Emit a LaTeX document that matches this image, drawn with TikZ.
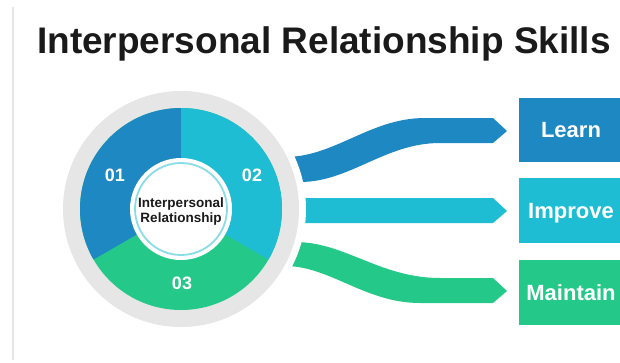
\documentclass[tikz,border=0pt]{standalone}
\usepackage{fontspec}
\setmainfont{Liberation Sans}
\definecolor{cblue}{HTML}{1E88C2}
\definecolor{cteal}{HTML}{1FBDD3}
\definecolor{cgreen}{HTML}{24C98A}
\definecolor{cgray}{HTML}{E6E6E6}
\definecolor{cring}{HTML}{8ADDE6}
\definecolor{ctitle}{HTML}{1A1A1A}
\tikzset{
  boxnode/.style={minimum width=104pt, minimum height=64pt, inner sep=0pt,
    text=white, font=\bfseries\fontsize{22}{24}\selectfont,
    text height=15.75pt, text depth=0pt},
  numlabel/.style={text=white, font=\bfseries\fontsize{18}{20}\selectfont, inner sep=0pt},
}
\begin{document}
\begin{tikzpicture}[x=1pt,y=-1pt]
\useasboundingbox (0,0) rectangle (620,362);
\fill[white] (0,0) rectangle (620,362);
\draw[cgray, line width=2pt] (12.5,7) -- (12.5,360);
\node[anchor=base west, inner sep=0pt, text=ctitle,
  font=\bfseries\fontsize{37}{40}\selectfont] (title) at (37,53)
  {Interpersonal Relationship Skills};
% ribbons
\fill[cblue] (260,157) -- (285,157) .. controls (335,157) and (370,118) .. (425,118)
  -- (493,118) -- (507,131) -- (493,143) -- (440,143)
  .. controls (385,143) and (350,182) .. (300,182) -- (260,182) -- cycle;
\fill[cteal] (260,198) -- (493,198) -- (507,211) -- (493,223) -- (260,223) -- cycle;
\fill[cgreen] (260,242) -- (295,242) .. controls (345,242) and (380,278) .. (440,278)
  -- (493,278) -- (507,291) -- (493,303) -- (420,303)
  .. controls (365,303) and (330,266) .. (285,266) -- (260,266) -- cycle;
% donut
\fill[white] (181,209) circle[radius=125pt];
\fill[cgray] (181,209) circle[radius=118pt];
\fill[cgreen] (181,209) circle[radius=101pt];
\fill[cblue] (181,209) -- (181,108) arc[start angle=90, end angle=210, radius=101pt] -- cycle;
\fill[cteal] (181,209) -- (181,108) arc[start angle=90, end angle=-30, radius=101pt] -- cycle;
\fill[white] (181,209) circle[radius=51pt];
\draw[cring, line width=1.8pt] (181,209) circle[radius=46pt];
\node[align=center, inner sep=0pt, text=ctitle,
  font=\bfseries\fontsize{13.5}{15}\selectfont] (center) at (181,211.8)
  {Interpersonal\\Relationship};
\node[numlabel] (n1) at (115,175) {01};
\node[numlabel] (n2) at (252,175) {02};
\node[numlabel] (n3) at (182,283.5) {03};
% boxes
\node[boxnode, fill=cblue] (learn) at (571,130) {Learn};
\node[boxnode, fill=cteal, minimum height=65pt] (improve) at (571,210.5) {Improve};
\node[boxnode, fill=cgreen, minimum height=65pt] (maintain) at (571,292.5) {Maintain};
\end{tikzpicture}
\end{document}
